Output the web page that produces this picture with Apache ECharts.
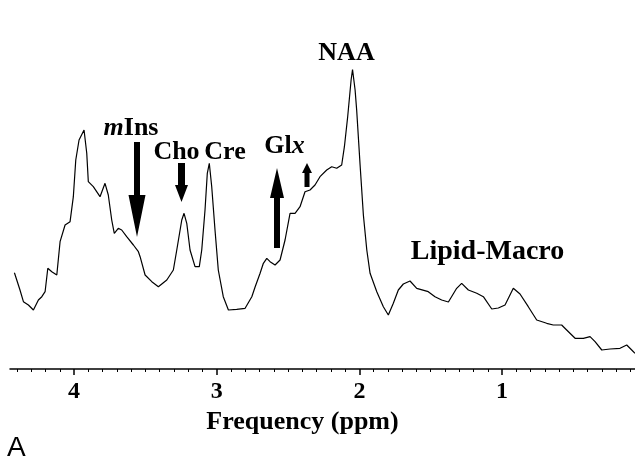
<!DOCTYPE html>
<html>
<head>
<meta charset="utf-8">
<script src="https://cdn.jsdelivr.net/npm/echarts@6/dist/echarts.min.js"></script>
<style>
  html, body { margin: 0; padding: 0; background: #fff; }
  #chart { width: 635px; height: 465px; }
</style>
</head>
<body>
<div id="chart"></div>
<script>
// spectrum (ppm, signal in arbitrary units)
var ppm = [4.418, 4.379, 4.355, 4.320, 4.285, 4.250, 4.226, 4.203, 4.184, 4.156,
    4.121, 4.098, 4.063, 4.028, 4.005, 3.988, 3.965, 3.930, 3.911, 3.900,
    3.865, 3.818, 3.783, 3.760, 3.736, 3.718, 3.690, 3.666, 3.631, 3.584,
    3.549, 3.537, 3.502, 3.455, 3.409, 3.350, 3.304, 3.280, 3.245, 3.229,
    3.210, 3.187, 3.152, 3.122, 3.105, 3.082, 3.066, 3.052, 3.035, 3.012,
    2.989, 2.954, 2.918, 2.860, 2.801, 2.754, 2.731, 2.696, 2.673, 2.649,
    2.626, 2.591, 2.556, 2.521, 2.486, 2.451, 2.416, 2.381, 2.346, 2.311,
    2.276, 2.229, 2.194, 2.159, 2.124, 2.105, 2.082, 2.058, 2.048, 2.030,
    2.019, 1.995, 1.972, 1.948, 1.925, 1.878, 1.832, 1.797, 1.762, 1.727,
    1.692, 1.645, 1.598, 1.517, 1.470, 1.423, 1.376, 1.318, 1.283, 1.236,
    1.177, 1.131, 1.072, 1.026, 0.979, 0.921, 0.874, 0.816, 0.757, 0.687,
    0.641, 0.582, 0.547, 0.488, 0.430, 0.383, 0.348, 0.301, 0.243, 0.173,
    0.126, 0.091, 0.068];
var signal = [96.3, 79, 67.3, 64, 59, 69, 72.3, 77.3, 100.7, 97.3,
    94, 127.3, 144, 147.3, 172.3, 209, 229, 239, 215.7, 187.3,
    182.3, 172.3, 185.7, 174, 149, 135.7, 140.7, 139, 132.3, 124,
    117.3, 112.3, 94, 87.3, 82.3, 89, 99, 119, 149, 155.7,
    145.7, 119, 102.3, 102.3, 119, 159, 195.7, 205.7, 182.3, 139,
    99, 72.3, 59, 59.7, 60.7, 72.3, 82, 95.7, 105.7, 110.7,
    107.3, 104, 109, 129, 155.7, 155.7, 162.3, 177.3, 179, 184,
    192.3, 199, 202.3, 200.7, 204, 222.3, 252.3, 289, 299.5, 279,
    259, 204, 154, 119, 95.7, 77.3, 62.3, 54, 65.7, 79,
    85, 88, 80.7, 77.3, 72.3, 69, 67, 80.7, 85.7, 79,
    75.7, 72.3, 60, 61, 64, 80.7, 75, 62.3, 49, 45.7,
    44, 44, 39, 30.7, 30.7, 32.3, 27.3, 19, 20, 20.7,
    24, 19, 15.7];

var majorTicks = [1, 2, 3, 4];
var minorTicks = [];
for (var t = 1; t <= 44; t++) {
    if (t % 10 != 0) minorTicks.push(t / 10);
}

var serif = "'Liberation Serif', 'Times New Roman', serif";
var labelSize = 26;

function downArrow(tx, ty, top, base, sw, hw) {
    return {
        type: 'polygon',
        shape: { points: [[tx - sw, top], [tx + sw, top], [tx + sw, base], [tx + hw, base],
            [tx, ty], [tx - hw, base], [tx - sw, base]] },
        style: { fill: '#000' }
    };
}
function upArrow(tx, ty, bottom, base, sw, hw) {
    return {
        type: 'polygon',
        shape: { points: [[tx - sw, bottom], [tx + sw, bottom], [tx + sw, base], [tx + hw, base],
            [tx, ty], [tx - hw, base], [tx - sw, base]] },
        style: { fill: '#000' }
    };
}
function label(cx, baseline, rich, size) {
    size = size || labelSize;
    var richStyle = {};
    rich.forEach(function (part, i) {
        richStyle['p' + i] = { fontFamily: serif, fontWeight: 'bold', fontSize: size,
            fontStyle: part[1] ? 'italic' : 'normal', fill: '#000' };
    });
    return {
        type: 'text',
        x: cx, y: baseline + size * 0.22,
        style: {
            text: rich.map(function (part, i) { return '{p' + i + '|' + part[0] + '}'; }).join(''),
            rich: richStyle,
            align: 'center', verticalAlign: 'bottom'
        }
    };
}

var xBase = {
    type: 'value', inverse: true, min: 0.068, max: 4.449,
    position: 'bottom', splitLine: { show: false }
};

var chart = echarts.init(document.getElementById('chart'));
chart.setOption({
    animation: false,
    backgroundColor: '#fff',
    grid: { left: 10, right: 0, top: 19, bottom: 96 },
    xAxis: [
        Object.assign({}, xBase, {
            axisLine: { show: true, lineStyle: { color: '#000', width: 1.5 } },
            axisTick: { show: true, customValues: majorTicks, length: 6, lineStyle: { color: '#000', width: 1.5 } },
            axisLabel: { show: true, customValues: majorTicks, margin: 11,
                fontFamily: serif, fontWeight: 'bold', fontSize: 24, color: '#000' },
            name: 'Frequency (ppm)', nameLocation: 'middle', nameGap: 31,
            nameTextStyle: { fontFamily: serif, fontWeight: 'bold', fontSize: 26, color: '#000',
                padding: [0, 40, 0, 0] }
        }),
        Object.assign({}, xBase, {
            axisLine: { show: false },
            axisTick: { show: true, customValues: minorTicks, length: 3, lineStyle: { color: '#000', width: 1 } },
            axisLabel: { show: false }
        })
    ],
    yAxis: { type: 'value', min: 0, max: 350, show: false },
    series: [{
        type: 'line',
        data: ppm.map(function (p, i) { return [p, signal[i]]; }),
        showSymbol: false,
        lineStyle: { color: '#000', width: 1.2 }
    }],
    graphic: [
        label(131, 136, [['m', true], ['Ins', false]]),
        label(176.5, 160, [['Cho', false]]),
        label(225, 160, [['Cre', false]]),
        label(284.5, 154, [['Gl', false], ['x', true]]),
        label(346.5, 61, [['NAA', false]]),
        label(487.5, 260, [['Lipid-Macro', false]], 28),
        downArrow(137, 237, 142, 195, 3, 8.5),
        downArrow(181.5, 202, 163, 185, 3.5, 6.5),
        upArrow(277, 168, 248, 198, 3, 7),
        upArrow(307, 163, 187, 173, 2.5, 5),
        {
            type: 'text', x: 7, y: 462,
            style: { text: 'A', font: "28px 'Liberation Sans', Arial, sans-serif", fill: '#000',
                align: 'left', verticalAlign: 'bottom' }
        }
    ]
});
</script>
</body>
</html>
